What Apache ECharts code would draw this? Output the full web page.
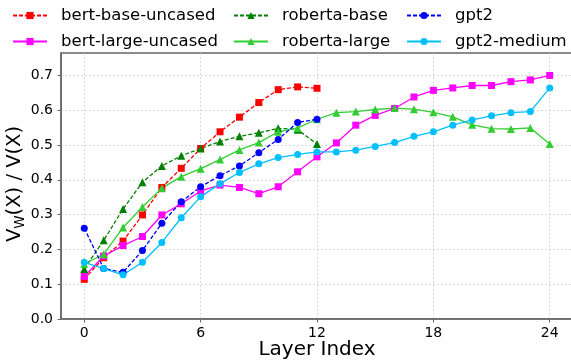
<!DOCTYPE html>
<html>
<head>
<meta charset="utf-8">
<script src="https://cdn.jsdelivr.net/npm/echarts@6/dist/echarts.min.js"></script>
<style>
  html, body { margin: 0; padding: 0; background: #fff; }
  #chart { width: 571px; height: 361px; }
</style>
</head>
<body>
<div id="chart"></div>
<script>
// Layer indices for 12-layer and 24-layer models
const layers12 = [0, 1, 2, 3, 4, 5, 6, 7, 8, 9, 10, 11, 12];
const layers24 = [0, 1, 2, 3, 4, 5, 6, 7, 8, 9, 10, 11, 12, 13, 14, 15, 16, 17, 18, 19, 20, 21, 22, 23, 24];

// V_W(X) / V(X) per layer
const bertBaseUncased = [0.114, 0.176, 0.224, 0.299, 0.378, 0.433, 0.490, 0.538, 0.580, 0.622, 0.659, 0.667, 0.663];
const bertLargeUncased = [0.122, 0.181, 0.211, 0.237, 0.299, 0.331, 0.368, 0.385, 0.378, 0.360, 0.380, 0.423, 0.466,
  0.506, 0.557, 0.585, 0.605, 0.638, 0.657, 0.664, 0.671, 0.671, 0.682, 0.687, 0.700];
const robertaBase = [0.144, 0.226, 0.316, 0.393, 0.440, 0.469, 0.490, 0.510, 0.525, 0.535, 0.548, 0.544, 0.503];
const robertaLarge = [0.158, 0.186, 0.263, 0.322, 0.376, 0.409, 0.432, 0.458, 0.486, 0.507, 0.538, 0.549, 0.574,
  0.593, 0.596, 0.602, 0.606, 0.603, 0.594, 0.581, 0.558, 0.547, 0.546, 0.549, 0.503];
const gpt2 = [0.261, 0.145, 0.134, 0.197, 0.275, 0.337, 0.380, 0.412, 0.440, 0.478, 0.516, 0.565, 0.574];
const gpt2Medium = [0.163, 0.145, 0.127, 0.163, 0.220, 0.291, 0.351, 0.389, 0.421, 0.446, 0.464, 0.473, 0.480,
  0.480, 0.485, 0.496, 0.507, 0.525, 0.538, 0.557, 0.572, 0.584, 0.593, 0.596, 0.664];

// Axis ticks
const xTicks = [0, 6, 12, 18, 24];
const yTicks = [0.0, 0.1, 0.2, 0.3, 0.4, 0.5, 0.6, 0.7];

const FONT = 'DejaVu Sans';

function lineSeries(name, xs, ys, color, symbol, size, dashed) {
  return {
    name: name,
    type: 'line',
    data: ys.map((v, i) => [xs[i], v]),
    symbol: symbol,
    symbolSize: size,
    showAllSymbol: true,
    lineStyle: { color: color, width: 1.3, type: dashed ? [4, 2] : 'solid' },
    itemStyle: { color: color, borderWidth: 0 },
    emphasis: { disabled: true },
    animation: false
  };
}

const series = [
  lineSeries('bert-base-uncased', layers12, bertBaseUncased, '#ff0000', 'rect', 7, true),
  lineSeries('bert-large-uncased', layers24, bertLargeUncased, '#ff00ff', 'rect', 7, false),
  lineSeries('roberta-base', layers12, robertaBase, '#008000', 'triangle', 8, true),
  lineSeries('roberta-large', layers24, robertaLarge, '#32cd32', 'triangle', 8, false),
  lineSeries('gpt2', layers12, gpt2, '#0000ff', 'circle', 7, true),
  lineSeries('gpt2-medium', layers24, gpt2Medium, '#00bfff', 'circle', 7, false)
];

function legendColumn(left, names) {
  return {
    data: names,
    orient: 'vertical',
    left: left,
    top: 6,
    padding: 0,
    itemWidth: 34,
    itemHeight: 9,
    itemGap: 7,
    selectedMode: false,
    textStyle: { fontFamily: FONT, fontSize: 16.5, color: '#000', lineHeight: 19, padding: [0, 0, 0, 9] }
  };
}

const chart = echarts.init(document.getElementById('chart'), null, { renderer: 'canvas' });
chart.setOption({
  backgroundColor: '#fff',
  animation: false,
  legend: [
    legendColumn(12, ['bert-base-uncased', 'bert-large-uncased']),
    legendColumn(233, ['roberta-base', 'roberta-large']),
    legendColumn(406, ['gpt2', 'gpt2-medium'])
  ],
  grid: {
    left: 61, top: 53, width: 512, bottom: 42,
    show: true, borderColor: '#666', borderWidth: 1.5,
    containLabel: false,
    outerBoundsMode: 'none'
  },
  xAxis: {
    type: 'value',
    min: -1.2, max: 25.2,
    name: 'Layer Index',
    nameLocation: 'middle',
    nameGap: 21,
    nameMoveOverlap: false,
    nameTextStyle: { fontFamily: FONT, fontSize: 20, color: '#000' },
    axisLine: { show: true, onZero: false, lineStyle: { color: '#666', width: 1.5 } },
    axisTick: { show: true, length: 3.5, lineStyle: { color: '#666' }, customValues: xTicks },
    axisLabel: { fontFamily: FONT, fontSize: 14, color: '#000', margin: 7, customValues: xTicks },
    splitLine: { show: true, lineStyle: { color: '#d0d0d0', width: 0.8, type: [2, 2] } }
  },
  yAxis: {
    type: 'value',
    min: 0, max: 0.7644,
    name: '{a|V}{b|W}{a|(X) / V(X)}',
    nameLocation: 'middle',
    nameRotate: 90,
    nameGap: 34,
    nameMoveOverlap: false,
    nameTextStyle: {
      fontFamily: FONT, color: '#000',
      padding: [0, 0, 0, 4],
      rich: {
        a: { fontFamily: FONT, fontSize: 19.5, color: '#000', lineHeight: 24, verticalAlign: 'middle' },
        b: { fontFamily: FONT, fontSize: 13.5, color: '#000', lineHeight: 24, verticalAlign: 'bottom' }
      }
    },
    axisLine: { show: true, onZero: false, lineStyle: { color: '#666', width: 1.5 } },
    axisTick: { show: true, length: 3.5, lineStyle: { color: '#666' }, customValues: yTicks },
    axisLabel: {
      fontFamily: FONT, fontSize: 14, color: '#000', margin: 8,
      customValues: yTicks,
      formatter: v => v.toFixed(1)
    },
    splitLine: { show: true, lineStyle: { color: '#d0d0d0', width: 0.8, type: [2, 2] } }
  },
  series: series
});
</script>
</body>
</html>
